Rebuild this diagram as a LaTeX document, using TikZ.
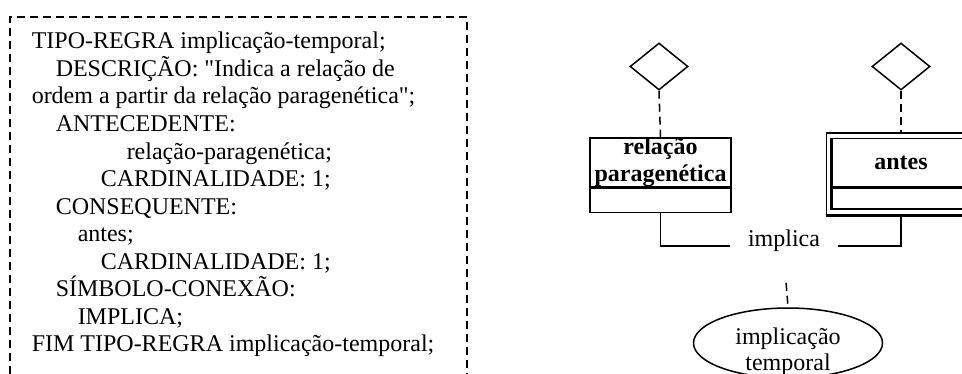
\documentclass[tikz,border=0pt]{standalone}
\usepackage{fontspec}
\setmainfont{Liberation Serif}[Ligatures=TeXOff]
\usetikzlibrary{shapes.geometric,positioning,fit}

\tikzstyle{papel} = [diamond, draw, minimum width=29pt, minimum height=23.5pt, inner sep=0pt]
\tikzstyle{classe} = [rectangle, draw, minimum width=70.5pt, minimum height=24.5pt,
    inner sep=0pt, align=center, font=\fontsize{12}{13.5}\selectfont\bfseries]
\tikzstyle{atributos} = [rectangle, draw, minimum width=70.5pt, minimum height=12pt, inner sep=0pt]
\tikzstyle{tracejado} = [draw, dash pattern=on 4pt off 2.5pt]
\tikzstyle{linha} = [draw]

\begin{document}
\begin{tikzpicture}[x=0.5pt, y=-0.5pt, line width=0.75pt, font=\fontsize{12}{13.8}\selectfont]
    \useasboundingbox (0,0) rectangle (962,374);

    % texto da regra
    \draw [tracejado] (10,400) -- (10,17) -- (467,17) -- (467,400);
    \foreach \recuo/\texto [count=\i] in {0/{TIPO-REGRA implicação-temporal;},
        24/{DESCRIÇÃO: "Indica a relação de},
        0/{ordem a partir da relação paragenética";},
        24/{ANTECEDENTE:},
        95/{relação-paragenética;},
        69/{CARDINALIDADE: 1;},
        24/{CONSEQUENTE:},
        46/{antes;},
        69/{CARDINALIDADE: 1;},
        24/{SÍMBOLO-CONEXÃO:},
        46/{IMPLICA;},
        0/{FIM TIPO-REGRA implicação-temporal;}}
        \node [anchor=base west, inner sep=0pt] (l\i) at (31+\recuo, 21.5+27.5*\i) {\texto};

    % diagrama
    \node [papel] (papelA) at (659,66.5) {};
    \node [classe] (relacao) at (660.5,162.5) {relação\\paragenética};
    \node [atributos, below=0pt of relacao] (relacaoAtr) {};

    \node [papel] (papelB) at (901,66.5) {};
    \node [classe, minimum width=69pt, minimum height=24pt] (antes) at (901,162.5) {antes};
    \node [atributos, minimum width=69pt, minimum height=10.5pt, below=0pt of antes] (antesAtr) {};
    \node [draw, fit=(antes)(antesAtr), inner sep=2.5pt] (antesMoldura) {};
    \draw [line width=1.75pt] (antesAtr.south west) -- (antes.north west);
    \draw [line width=1.75pt] (antesMoldura.south west) -- (antesMoldura.south east);

    \path [tracejado] (papelA.south) -- (relacao.north);
    \path [tracejado] (papelB.south) -- (antesMoldura.north);

    \node [inner xsep=8.5pt, inner ysep=2pt, anchor=base] (implica) at (784,246) {implica};
    \path [linha] (relacaoAtr.south) |- (implica.base west);
    \path [linha] (antesMoldura.south) |- (implica.base east);

    \node [draw, ellipse, minimum width=94.5pt, minimum height=35pt, inner sep=0pt] (implicacao) at (788,343) {};
    \node [align=center, inner sep=0pt, font=\fontsize{12}{13}\selectfont] (implicacaoTxt) at (788,352) {implicação\\temporal};
    \path [tracejado, shorten <=13.5pt] (implica.south) -- (implicacao.north);
\end{tikzpicture}
\end{document}
